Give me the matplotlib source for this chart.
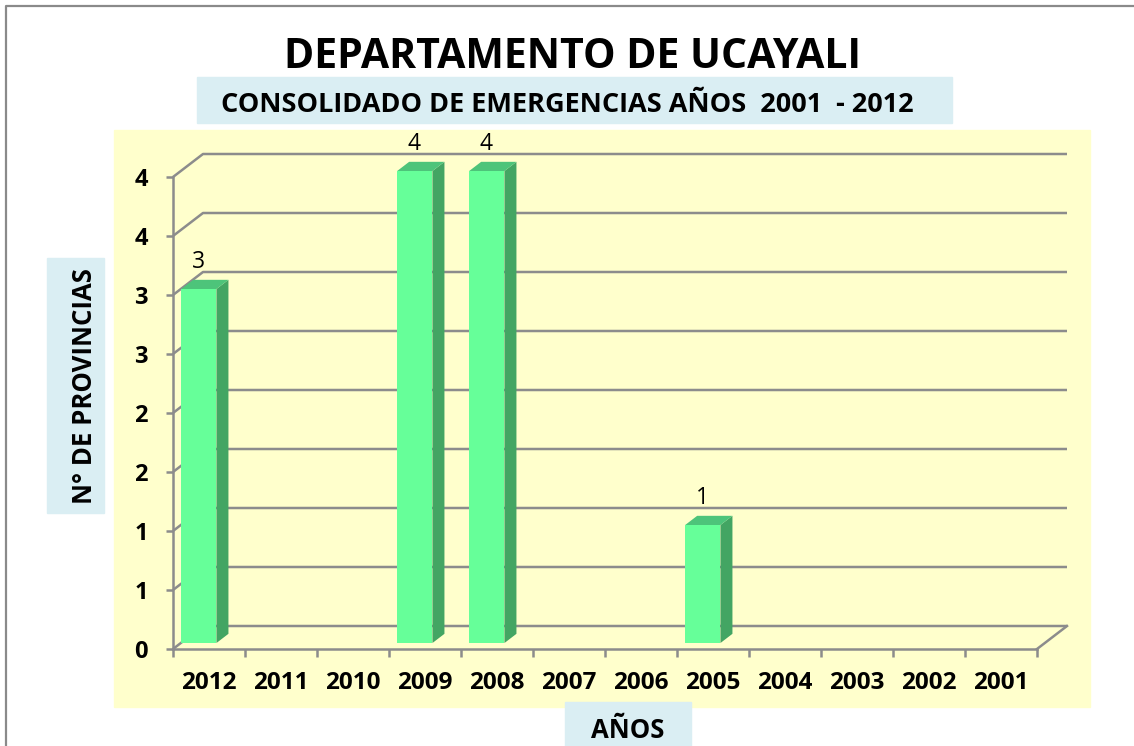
import math
import matplotlib.pyplot as plt
import numpy as np
from matplotlib.patches import Polygon, Rectangle
from matplotlib.ticker import FuncFormatter

plt.rcParams['font.family'] = ['Open Sans', 'DejaVu Sans']

anios = ['2012', '2011', '2010', '2009', '2008', '2007', '2006',
         '2005', '2004', '2003', '2002', '2001']
provincias = [3, 0, 0, 4, 4, 0, 0, 1, 0, 0, 0, 0]
y_ticks = np.arange(0, 4.5, 0.5)

W, H = 1134, 746
fig = plt.figure(figsize=(W / 100, H / 100), dpi=100)

def fx(px):
    return px / W

def fy(py):
    return 1 - py / H

# fondo amarillo y cajas celestes
fig.add_artist(Rectangle((fx(114), fy(707)), fx(1090 - 114), (707 - 130) / H,
                         transform=fig.transFigure, color='#FFFFCC', zorder=0))
fig.add_artist(Rectangle((fx(197), fy(123)), fx(952 - 197), (123 - 77) / H,
                         transform=fig.transFigure, color='#DAEEF3', zorder=0))
fig.add_artist(Rectangle((fx(47), fy(513)), fx(104 - 47), (513 - 258) / H,
                         transform=fig.transFigure, color='#DAEEF3', zorder=0))
fig.add_artist(Rectangle((fx(565), fy(746)), fx(691 - 565), (746 - 702) / H,
                         transform=fig.transFigure, color='#DAEEF3', zorder=0))
# borde
fig.add_artist(plt.Line2D([fx(6), fx(6), 1], [0, fy(6), fy(6)],
                          transform=fig.transFigure, color='#8a8a8a', lw=1.6))

ax = fig.add_axes([fx(173), fy(649), fx(1037 - 173), (649 - 177) / H])
ax.set_xlim(0, 12)
ax.set_ylim(0, 4)
ax.patch.set_alpha(0)

gris = '#8C8C8C'
DX = 30 / 72    # profundidad en unidades de categoria
DY = 23 / 118   # profundidad en unidades de valor

# lineas de la grilla (pared del fondo)
for v in y_ticks:
    ax.plot([0, DX, 12 + DX], [v, v + DY, v + DY], color=gris, lw=1.8,
            clip_on=False, zorder=1, solid_capstyle='butt')
ax.plot([12, 12 + DX], [0, DY], color=gris, lw=1.8, clip_on=False, zorder=1)

# barras 3d
d0, d1 = 0.26, 0.66
ancho = 0.49
for i, v in enumerate(provincias):
    if v == 0:
        continue
    x0 = i + 0.005 + d0 * DX
    x1 = x0 + ancho
    yb = d0 * DY
    yt = yb + v
    ox, oy = (d1 - d0) * DX, (d1 - d0) * DY
    ax.add_patch(Polygon([(x1, yb), (x1 + ox, yb + oy), (x1 + ox, yt + oy), (x1, yt)],
                         closed=True, color='#43A563', lw=0, zorder=3, clip_on=False))
    ax.add_patch(Polygon([(x0, yt), (x1, yt), (x1 + ox, yt + oy), (x0 + ox, yt + oy)],
                         closed=True, color='#4DC47A', lw=0, zorder=3, clip_on=False))
    ax.add_patch(Rectangle((x0, yb), ancho, v, color='#66FF99', lw=0, zorder=4,
                           clip_on=False))
    ax.text(i + 0.35, v + 0.28, str(v), ha='center', va='center', fontsize=16.5,
            color='#000000', zorder=5)

for s in ['top', 'right']:
    ax.spines[s].set_visible(False)
for s in ['left', 'bottom']:
    ax.spines[s].set_color(gris)
    ax.spines[s].set_linewidth(1.8)
    ax.spines[s].set_zorder(2)

ax.set_yticks(y_ticks)
ax.yaxis.set_major_formatter(FuncFormatter(lambda v, p: str(int(math.floor(v + 0.5)))))
ax.tick_params(axis='y', length=5, width=1.8, color=gris, pad=13, labelsize=17)
for t in ax.get_yticklabels():
    t.set_fontweight('bold')

ax.set_xticks(np.arange(0, 13))
ax.set_xticklabels([])
ax.set_xticks(np.arange(12) + 0.5, minor=True)
ax.set_xticklabels(anios, minor=True, fontsize=17.5, fontweight='bold')
ax.tick_params(axis='x', which='major', length=6, width=1.8, color=gris)
ax.tick_params(axis='x', which='minor', length=0, pad=16)

fig.text(fx(572), fy(57), 'DEPARTAMENTO DE UCAYALI', ha='center', va='center',
         fontsize=29.5, fontweight='bold')
fig.text(fx(567), fy(105), 'CONSOLIDADO DE EMERGENCIAS AÑOS  2001  - 2012',
         ha='center', va='center', fontsize=19.5, fontweight='bold')
fig.text(fx(84), fy(386), 'N° DE PROVINCIAS', ha='center', va='center',
         rotation=90, fontsize=18.5, fontweight='bold')
fig.text(fx(628), fy(731), 'AÑOS', ha='center', va='center',
         fontsize=18.5, fontweight='bold')

fig.savefig('out.png', dpi=100)
